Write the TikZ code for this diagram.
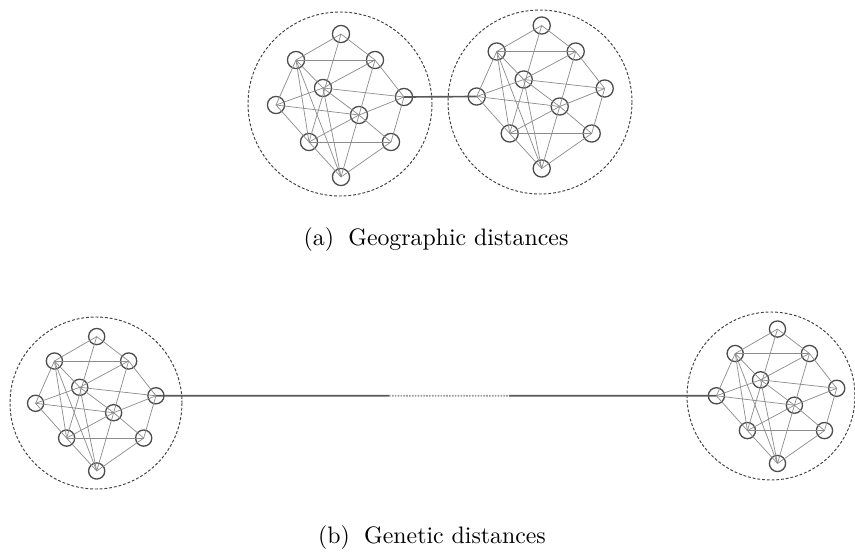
\documentclass[tikz,border=0pt]{standalone}
\usepackage{tikz}
\usetikzlibrary{arrows}
\tikzstyle{indiv} = [circle, draw=black!70, line width=0.55pt, inner sep=0pt]
\tikzstyle{link} = [draw=black!45, line width=0.3pt]
\tikzstyle{region} = [draw=black!75, line width=0.4pt, dash pattern=on 1.2pt off 0.8pt]
\tikzstyle{bridge} = [draw=black!65, line width=0.7pt]
\tikzstyle{faded} = [draw=black!40, line width=0.7pt, dash pattern=on 0.7pt off 0.5pt]

% one population: #1 name, #2/#3 centre, #4 scale, #5 node size
\newcommand{\popgraph}[5]{%
  \begin{scope}[shift={(#2,#3)}, scale=#4]
    \node[indiv, minimum size=#5] (#1-t) at (0,-71) {};
    \node[indiv, minimum size=#5] (#1-ul) at (-45,-45) {};
    \node[indiv, minimum size=#5] (#1-ur) at (34,-45) {};
    \node[indiv, minimum size=#5] (#1-c1) at (-18,-17) {};
    \node[indiv, minimum size=#5] (#1-l) at (-65,0) {};
    \node[indiv, minimum size=#5] (#1-r) at (63,-8) {};
    \node[indiv, minimum size=#5] (#1-c2) at (18,10) {};
    \node[indiv, minimum size=#5] (#1-ll) at (-32,37) {};
    \node[indiv, minimum size=#5] (#1-lr) at (50,37) {};
    \node[indiv, minimum size=#5] (#1-b) at (0,72) {};
    \foreach \a/\b in {t/ul, t/ur, t/ll, ul/ur, ul/c1, ul/l, ul/ll, ul/b,
      ur/c1, ur/r, ur/b, c1/l, c1/r, c1/c2, c1/b, l/c2, l/ll, c2/r,
      c2/ll, c2/lr, ll/lr, ll/b, lr/b, r/lr}
      \draw[link] (#1-\a.center) -- (#1-\b.center);
  \end{scope}}

\begin{document}
\begin{tikzpicture}[x=0.42pt, y=-0.42pt]
  \useasboundingbox (0,0) rectangle (855,554);

  % (a) geographic distances
  \draw[region] (340,104) circle[radius=92];
  \draw[region] (540,102) circle[radius=92];
  \popgraph{geoA}{341}{105}{1}{7.2pt}
  \popgraph{geoB}{541.7}{96.5}{1}{7.2pt}
  \draw[bridge] (geoA-r.center) -- (geoB-l.center);
  \node (capa) at (436,240) {(a)\hspace{6pt}Geographic distances};

  % (b) genetic distances
  \draw[region] (96,403) circle[radius=86];
  \draw[region] (771,396) circle[radius=84];
  \popgraph{genA}{96.7}{403.3}{0.94}{6.8pt}
  \popgraph{genB}{777.5}{395.8}{0.94}{6.8pt}
  \path (genA-r.center) -- (genB-l.center)
    coordinate[pos=0.416] (dotA) coordinate[pos=0.63] (dotB);
  \draw[bridge] (genA-r.center) -- (dotA);
  \draw[faded] (dotA) -- (dotB);
  \draw[bridge] (dotB) -- (genB-l.center);
  \node (capb) at (432,538) {(b)\hspace{6pt}Genetic distances};
\end{tikzpicture}
\end{document}
